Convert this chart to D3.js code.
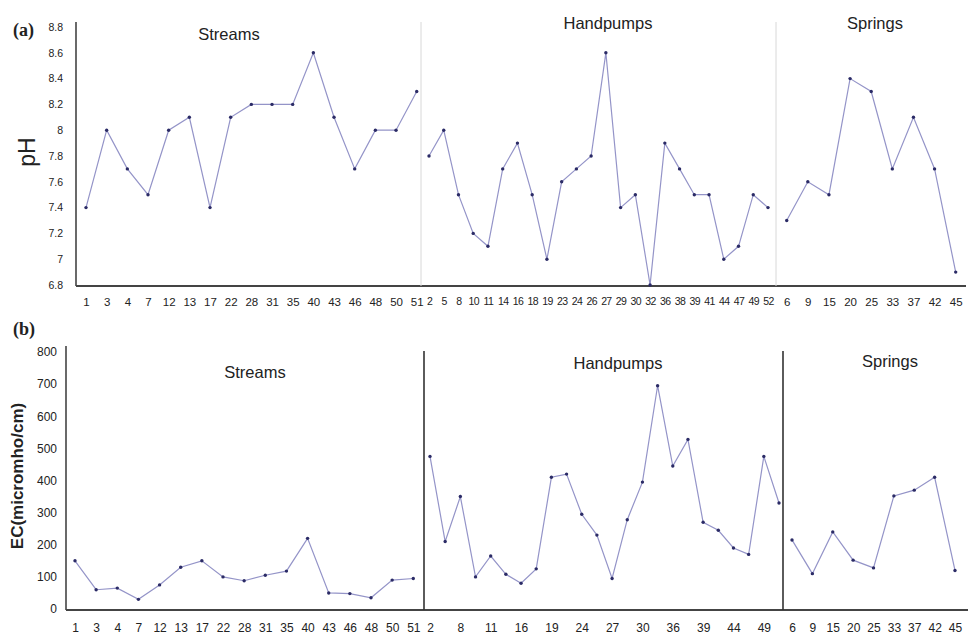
<!DOCTYPE html>
<html>
<head>
<meta charset="utf-8">
<script src="https://cdn.jsdelivr.net/npm/d3@7"></script>
<style>
  body { margin: 0; background: #fff; }
  text { font-family: "Liberation Sans", Arial, sans-serif; fill: #222; }
</style>
</head>
<body>
<script>
// Sample site numbers for each source type
var streamIds = ["1","3","4","7","12","13","17","22","28","31","35","40","43","46","48","50","51"];
var handpumpIds = ["2","5","8","10","11","14","16","18","19","23","24","26","27","29","30","32","36","38","39","41","44","47","49","52"];
var springIds = ["6","9","15","20","25","33","37","42","45"];

// pH values
var phStreams = [7.4, 8.0, 7.7, 7.5, 8.0, 8.1, 7.4, 8.1, 8.2, 8.2, 8.2, 8.6, 8.1, 7.7, 8.0, 8.0, 8.3];
var phHandpumps = [7.8, 8.0, 7.5, 7.2, 7.1, 7.7, 7.9, 7.5, 7.0, 7.6, 7.7, 7.8, 8.6, 7.4, 7.5, 6.8, 7.9, 7.7, 7.5, 7.5, 7.0, 7.1, 7.5, 7.4];
var phSprings = [7.3, 7.6, 7.5, 8.4, 8.3, 7.7, 8.1, 7.7, 6.9];

// EC values (micromho/cm)
var ecStreams = [150, 60, 65, 30, 75, 130, 150, 100, 88, 105, 118, 220, 50, 48, 35, 90, 95];
var ecHandpumps = [475, 210, 350, 100, 165, 108, 80, 125, 410, 420, 295, 230, 95, 278, 395, 695, 445, 528, 270, 245, 190, 170, 475, 330];
var ecSprings = [215, 110, 240, 152, 128, 352, 370, 410, 120];

var phTicks = [6.8, 7, 7.2, 7.4, 7.6, 7.8, 8, 8.2, 8.4, 8.6, 8.8];
var ecTicks = [0, 100, 200, 300, 400, 500, 600, 700, 800];
var groupNames = ["Streams", "Handpumps", "Springs"];

var width = 971, height = 637;
var lineColor = "#9494c8", dotColor = "#2b2b66";

var svg = d3.select("body").append("svg")
    .attr("width", width)
    .attr("height", height);

function drawPanel(p) {
  var g = svg.append("g");
  var y = d3.scaleLinear().domain(p.domain).range(p.yRange);

  // y axis
  var yAxis = g.append("g")
      .attr("transform", "translate(" + p.axisX + ",0)")
      .call(d3.axisLeft(y).tickValues(p.ticks).tickSize(0).tickPadding(p.tickPad)
        .tickFormat(p.fmt));
  yAxis.select(".domain").remove();
  yAxis.selectAll("text").style("font-size", p.yFont).attr("fill", "#333");

  g.append("line")
      .attr("x1", p.axisX).attr("x2", p.axisX)
      .attr("y1", p.yTop).attr("y2", p.baseY)
      .attr("stroke", "#444").attr("stroke-width", 1.6);
  g.append("line")
      .attr("x1", p.axisX).attr("x2", p.xEnd)
      .attr("y1", p.baseY).attr("y2", p.baseY)
      .attr("stroke", "#444").attr("stroke-width", 2);

  // dividers between groups
  p.dividers.forEach(function(dx) {
    g.append("line")
        .attr("x1", dx).attr("x2", dx)
        .attr("y1", p.divTop).attr("y2", p.baseY)
        .attr("stroke", p.divColor).attr("stroke-width", p.divWidth);
  });

  p.groups.forEach(function(grp, i) {
    var x = d3.scalePoint().domain(grp.ids).range(grp.range).padding(0);
    var pts = grp.ids.map(function(id, j) { return {id: id, v: grp.values[j]}; });

    var xAxis = g.append("g")
        .attr("transform", "translate(0," + p.baseY + ")")
        .call(d3.axisBottom(x).tickSize(0).tickPadding(p.xPad)
          .tickValues(grp.tickIds || grp.ids));
    xAxis.select(".domain").remove();
    xAxis.selectAll("text")
        .style("font-size", grp.xFont || p.xFont)
        .style("letter-spacing", grp.spacing || "0px")
        .attr("fill", "#333");

    g.append("path")
        .datum(pts)
        .attr("fill", "none")
        .attr("stroke", lineColor)
        .attr("stroke-width", 1.2)
        .attr("d", d3.line().x(function(d) { return x(d.id); }).y(function(d) { return y(d.v); }));

    g.selectAll(null)
        .data(pts)
        .enter().append("circle")
        .attr("cx", function(d) { return x(d.id); })
        .attr("cy", function(d) { return y(d.v); })
        .attr("r", 1.7)
        .attr("fill", dotColor);

    g.append("text")
        .attr("x", grp.titleX).attr("y", grp.titleY)
        .attr("text-anchor", "middle")
        .style("font-size", "16.5px")
        .text(groupNames[i]);
  });

  g.append("text")
      .attr("x", p.tagX).attr("y", p.tagY)
      .style("font-family", "'Liberation Serif', 'Times New Roman', serif")
      .style("font-weight", "bold")
      .style("font-size", "18px")
      .text(p.tag);

  g.append("text")
      .attr("transform", "translate(" + p.labelX + "," + p.labelY + ") rotate(-90)")
      .attr("text-anchor", "middle")
      .style("font-size", p.labelFont)
      .style("font-weight", p.labelWeight)
      .text(p.label);
}

// (a) pH panel
drawPanel({
  domain: [6.8, 8.8], yRange: [285, 27], ticks: phTicks,
  fmt: function(d) { return d3.format("")(+d.toFixed(1)); },
  axisX: 76, yTop: 22, baseY: 286, xEnd: 966, tickPad: 13, yFont: "10.5px",
  xPad: 12, xFont: "11.5px",
  dividers: [421, 776], divTop: 22, divColor: "#d8d8d8", divWidth: 1,
  tag: "(a)", tagX: 13, tagY: 36,
  label: "pH", labelX: 35, labelY: 152, labelFont: "23px", labelWeight: "normal",
  groups: [
    {ids: streamIds, values: phStreams, range: [86, 416.7], titleX: 229, titleY: 40},
    {ids: handpumpIds, values: phHandpumps, range: [429, 768], titleX: 608, titleY: 29,
      xFont: "10.5px", spacing: "-0.6px"},
    {ids: springIds, values: phSprings, range: [786.7, 955.7], titleX: 875, titleY: 29}
  ]
});

// (b) EC panel
drawPanel({
  domain: [0, 800], yRange: [609, 352], ticks: ecTicks,
  fmt: d3.format("d"),
  axisX: 66, yTop: 346, baseY: 610, xEnd: 968, tickPad: 9, yFont: "12px",
  xPad: 13, xFont: "12px",
  dividers: [424, 783], divTop: 351, divColor: "#333", divWidth: 1.6,
  tag: "(b)", tagX: 13, tagY: 335,
  label: "EC(micromho/cm)", labelX: 23, labelY: 476, labelFont: "17px", labelWeight: "bold",
  groups: [
    {ids: streamIds, values: ecStreams, range: [75, 413.3], titleX: 255, titleY: 378},
    {ids: handpumpIds, values: ecHandpumps, range: [430, 779],
      tickIds: handpumpIds.filter(function(d, i) { return i % 2 === 0; }),
      titleX: 618, titleY: 369},
    {ids: springIds, values: ecSprings, range: [792, 955], titleX: 890, titleY: 367}
  ]
});
</script>
</body>
</html>
